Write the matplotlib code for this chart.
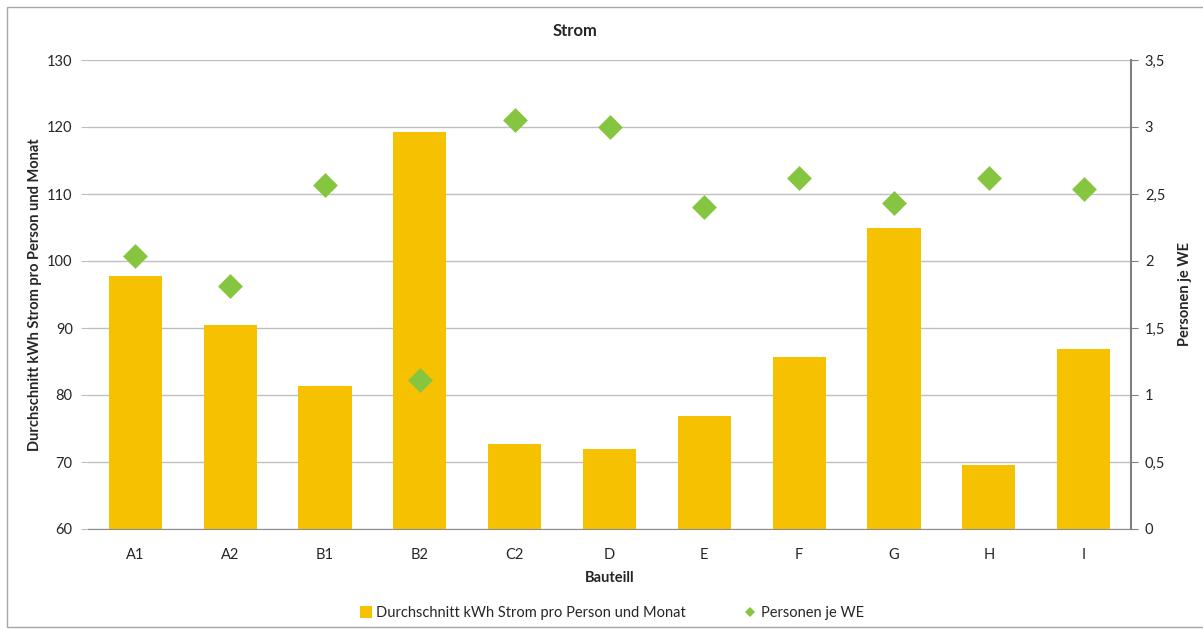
import matplotlib
matplotlib.use("Agg")
import matplotlib.pyplot as plt
from matplotlib.lines import Line2D
from matplotlib.patches import Rectangle

plt.rcParams['font.family'] = ['Lato', 'DejaVu Sans']

categories = ["A1", "A2", "B1", "B2", "C2", "D", "E", "F", "G", "H", "I"]
kwh_per_person = [97.8, 90.5, 81.4, 119.3, 72.7, 72.0, 76.9, 85.6, 104.9, 69.5, 86.8]
persons_per_we = [2.04, 1.81, 2.57, 1.11, 3.05, 3.0, 2.40, 2.62, 2.43, 2.62, 2.54]

left_ticks = [60, 70, 80, 90, 100, 110, 120, 130]
right_ticks = [0, 0.5, 1, 1.5, 2, 2.5, 3, 3.5]
right_labels = ["0", "0,5", "1", "1,5", "2", "2,5", "3", "3,5"]

bar_color = "#F6C100"
dot_color = "#86C540"
text_color = "#262626"
grid_color = "#BFBFBF"

W, H = 1203, 631
fig = plt.figure(figsize=(W / 100, H / 100), dpi=100)
fig.patch.set_facecolor("white")

# outer chart frame
fig.add_artist(Rectangle((7 / W, 4 / H), 1.2, (H - 11) / H, transform=fig.transFigure,
                         fill=False, edgecolor="#A6A6A6", linewidth=1.0))

ax = fig.add_axes([88 / W, 1 - 529 / H, (1131 - 88) / W, (529 - 60) / H])
ax2 = ax.twinx()

x = list(range(len(categories)))
ax.bar(x, kwh_per_person, width=0.56, color=bar_color, zorder=2,
       label="Durchschnitt kWh Strom pro Person und Monat")
ax.set_ylim(60, 130)
ax.set_xlim(-0.5, len(categories) - 0.5)
ax.set_yticks(left_ticks)
ax.set_xticks(x)
ax.set_xticklabels(categories)
ax.grid(axis="y", color=grid_color, linewidth=1.0, zorder=0)
ax.set_axisbelow(True)

ax2.scatter(x, persons_per_we, marker="D", s=160, color=dot_color, zorder=3,
            linewidths=0, label="Personen je WE")
ax2.set_ylim(0, 3.5)
ax2.set_yticks(right_ticks)
ax2.set_yticklabels(right_labels)

for a in (ax, ax2):
    for s in ("top", "left"):
        a.spines[s].set_visible(False)
    a.spines["right"].set_visible(False)
    a.spines["bottom"].set_color("#8C8C8C")
ax2.spines["right"].set_visible(True)
ax2.spines["right"].set_color("#7F7F7F")
ax2.spines["right"].set_linewidth(1.5)
ax2.spines["bottom"].set_visible(False)

ax.tick_params(axis="y", length=5, color=grid_color, labelsize=10.5,
               labelcolor=text_color, pad=6)
ax.tick_params(axis="x", length=0, labelsize=10.5, labelcolor=text_color, pad=14)
ax2.tick_params(axis="y", length=5, color="#7F7F7F", labelsize=10.5,
                labelcolor=text_color, pad=5)

ax.set_ylabel("Durchschnitt kWh Strom pro Person und Monat", fontsize=10.5,
              fontweight="bold", color=text_color, labelpad=4)
ax2.set_ylabel("Personen je WE", fontsize=10.5, fontweight="bold",
               color=text_color, labelpad=9)
ax.set_xlabel("Bauteill", fontsize=10.5, fontweight="bold", color=text_color,
              labelpad=6)
fig.text(575 / W, 1 - 31 / H, "Strom", fontsize=12, fontweight="bold",
         color=text_color, ha="center", va="center")

handles = [
    Line2D([], [], marker="s", linestyle="none", markersize=9,
           markerfacecolor=bar_color, markeredgewidth=0),
    Line2D([], [], marker="D", linestyle="none", markersize=5,
           markerfacecolor=dot_color, markeredgewidth=0),
]
labels = ["Durchschnitt kWh Strom pro Person und Monat", "Personen je WE"]
fig.legend(handles, labels, loc="center", bbox_to_anchor=(612 / W, 1 - 613 / H),
           ncol=2, frameon=False, fontsize=10.5, handlelength=0.8,
           handletextpad=0.3, columnspacing=4.0, labelcolor=text_color)

fig.savefig("out.png", dpi=100, facecolor="white")
